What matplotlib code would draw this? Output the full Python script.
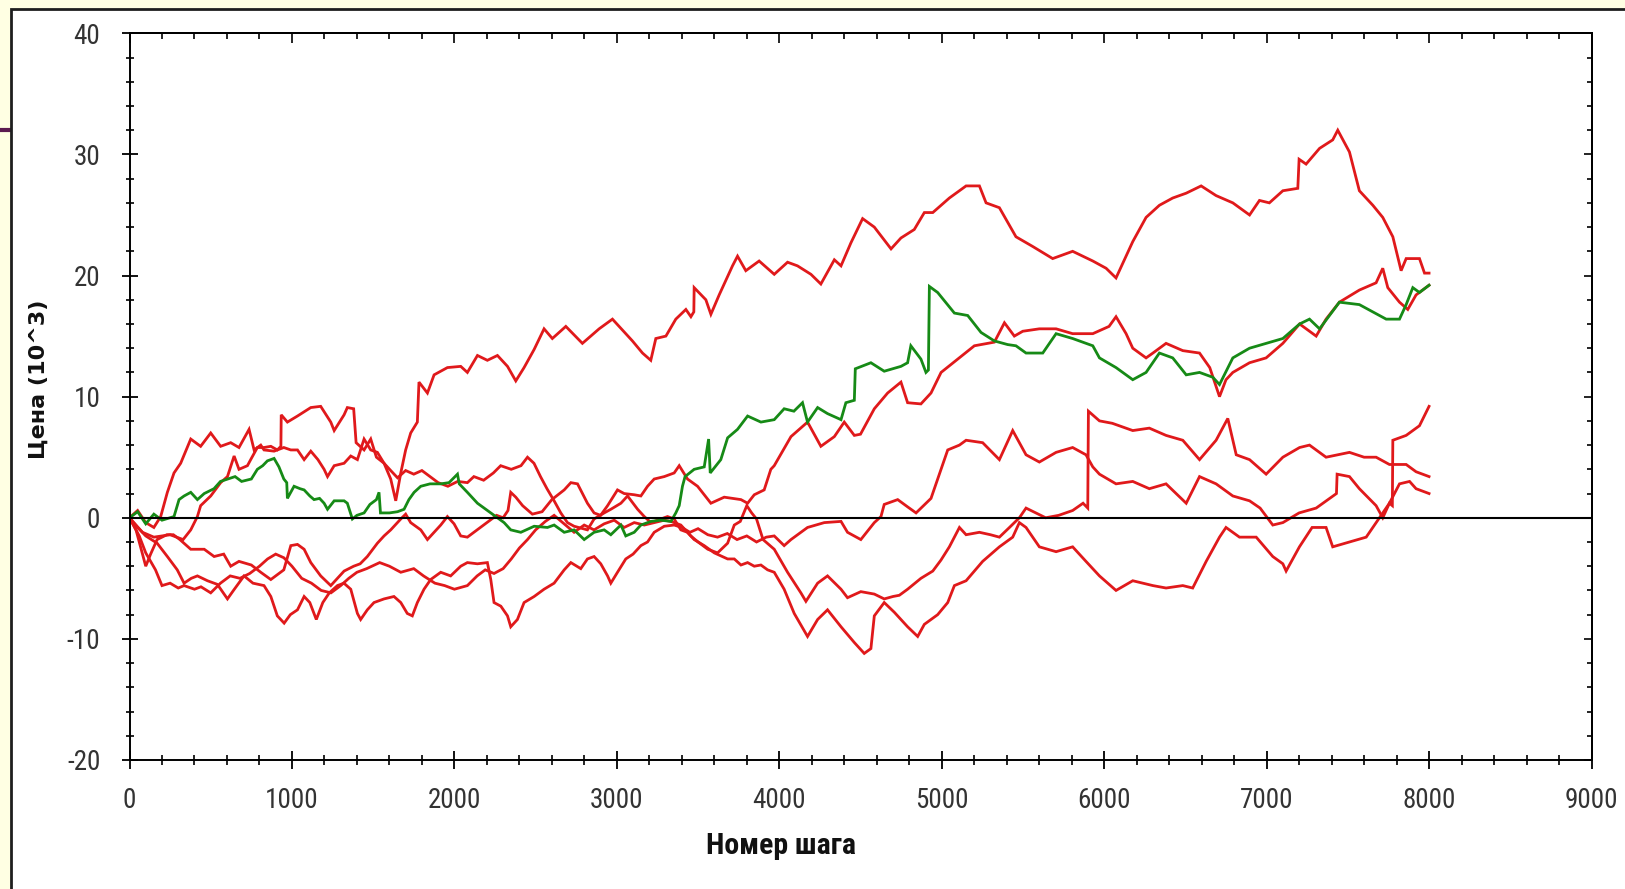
import matplotlib
matplotlib.use("Agg")
import matplotlib.pyplot as plt
from matplotlib.patches import Rectangle
from matplotlib.lines import Line2D
from matplotlib.ticker import MultipleLocator, NullFormatter

plt.rcParams['axes.unicode_minus'] = False

# ----------------------------
# Look
# ----------------------------
FIG_W, FIG_H, DPI = 16.25, 8.89, 100
SLIDE_BG = '#FFFFE3'
PANEL_EDGE = '#1e1e1e'
ACCENT = '#5b1a4f'
RED = '#e0191b'
GREEN = '#168a16'
LINE_W = 2.0
TICK_FONT = ['Liberation Sans Narrow', 'DejaVu Sans Condensed', 'Noto Sans Condensed',
             'Roboto Condensed', 'Open Sans Condensed', 'Liberation Sans']
TICK_COLOR = '#333333'

X_LABEL = 'Номер шага'
Y_LABEL = 'Цена (10^3)'

# ----------------------------
# Price paths: (step, price in 10^3)
# ----------------------------
path_a = [
    (0, 0.0), (40, -0.6), (80, -1.2), (150, -1.6), (250, -1.4), (330, -1.8), (377, -1.0),
    (418, 0.1), (438, 1.0), (500, 1.8), (561, 2.9), (603, 3.4), (644, 5.1), (674, 4.0),
    (726, 4.3), (746, 4.8), (787, 5.8), (828, 5.8), (870, 5.9), (910, 5.6), (932, 5.9),
    (934, 8.5), (972, 7.9), (1034, 8.4), (1116, 9.1), (1177, 9.2), (1239, 7.9), (1260, 7.2),
    (1321, 8.5), (1341, 9.1), (1380, 9.0), (1395, 6.2), (1444, 5.6), (1485, 6.5), (1520, 5.0),
    (1567, 4.5), (1608, 3.2), (1639, 1.4), (1670, 3.7), (1700, 5.6), (1731, 7.0), (1772, 7.9),
    (1782, 11.2), (1834, 10.3), (1875, 11.8), (1957, 12.4), (2039, 12.5), (2080, 12.0),
    (2142, 13.4), (2203, 13.0), (2265, 13.4), (2327, 12.5), (2378, 11.3), (2429, 12.4),
    (2491, 13.9), (2552, 15.6), (2603, 14.8), (2686, 15.8), (2788, 14.4), (2891, 15.6),
    (2973, 16.4), (3055, 15.2), (3096, 14.6), (3158, 13.6), (3209, 13.0), (3240, 14.8),
    (3302, 15.0), (3363, 16.4), (3425, 17.2), (3456, 16.6), (3474, 17.0), (3476, 19.0),
    (3548, 18.0), (3579, 16.8), (3630, 18.4), (3712, 20.8), (3743, 21.6), (3794, 20.4),
    (3876, 21.2), (3969, 20.1), (4051, 21.1), (4112, 20.8), (4195, 20.1), (4256, 19.3),
    (4339, 21.3), (4380, 20.8), (4441, 22.7), (4513, 24.7), (4585, 24.0), (4688, 22.2),
    (4749, 23.1), (4831, 23.8), (4893, 25.2), (4945, 25.2), (5047, 26.4), (5150, 27.4),
    (5232, 27.4), (5273, 26.0), (5355, 25.6), (5457, 23.2), (5560, 22.4), (5683, 21.4),
    (5806, 22.0), (5930, 21.2), (6012, 20.6), (6073, 19.8), (6176, 22.8), (6258, 24.8),
    (6340, 25.8), (6422, 26.4), (6505, 26.8), (6597, 27.4), (6689, 26.6), (6792, 26.0),
    (6895, 25.0), (6956, 26.2), (7017, 26.0), (7100, 27.0), (7192, 27.2), (7200, 29.6),
    (7243, 29.2), (7326, 30.5), (7407, 31.2), (7438, 32.0), (7510, 30.2), (7571, 27.0),
    (7654, 25.8), (7715, 24.8), (7777, 23.2), (7828, 20.4), (7859, 21.4), (7941, 21.4),
    (7972, 20.2), (8000, 20.2),
]

path_b = [
    (0, 0.0), (50, 0.6), (100, -0.4), (150, -0.8), (192, 0.1), (233, 2.1), (274, 3.7),
    (315, 4.5), (377, 6.5), (438, 5.9), (500, 7.0), (561, 5.9), (623, 6.2), (674, 5.8),
    (736, 7.3), (767, 5.6), (808, 6.0), (828, 5.6), (890, 5.5), (950, 5.8), (993, 5.6),
    (1034, 5.6), (1075, 4.8), (1116, 5.5), (1160, 4.8), (1198, 4.0), (1219, 3.4), (1260, 4.3),
    (1321, 4.5), (1362, 5.1), (1403, 4.8), (1444, 6.5), (1485, 5.6), (1526, 5.4), (1567, 4.5),
    (1608, 3.9), (1650, 3.3), (1700, 3.9), (1750, 3.6), (1800, 3.9), (1850, 3.4), (1900, 2.9),
    (1960, 2.6), (2020, 3.0), (2080, 2.9), (2120, 3.4), (2180, 3.1), (2240, 3.7), (2285, 4.3),
    (2350, 4.0), (2410, 4.3), (2450, 5.0), (2490, 4.5), (2530, 3.4), (2570, 2.4), (2614, 1.4),
    (2655, 0.4), (2696, -0.4), (2737, -0.7), (2819, -1.0), (2860, -0.1), (2922, 0.4),
    (2963, 0.7), (3025, 1.2), (3066, 1.8), (3128, 0.7), (3169, 0.1), (3210, -0.4),
    (3271, -0.1), (3312, 0.1), (3353, -0.1), (3394, -1.0), (3435, -1.2), (3476, -1.8),
    (3538, -2.3), (3600, -2.9), (3682, -3.4), (3723, -3.4), (3764, -3.9), (3805, -3.7),
    (3846, -4.0), (3887, -3.9), (3928, -4.3), (3969, -4.5), (4030, -5.9), (4092, -7.9),
    (4174, -9.8), (4236, -8.4), (4297, -7.6), (4380, -9.0), (4462, -10.3), (4523, -11.2),
    (4564, -10.8), (4585, -8.1), (4646, -7.0), (4708, -7.8), (4790, -9.0), (4852, -9.8),
    (4893, -8.8), (4975, -8.0), (5037, -7.0), (5078, -5.6), (5150, -5.2), (5252, -3.6),
    (5355, -2.4), (5437, -1.6), (5478, -0.4), (5519, -0.8), (5601, -2.4), (5704, -2.8),
    (5806, -2.4), (5888, -3.6), (5971, -4.8), (6073, -6.0), (6176, -5.2), (6300, -5.6),
    (6381, -5.8), (6484, -5.6), (6545, -5.8), (6628, -3.6), (6710, -1.6), (6750, -0.8),
    (6833, -1.6), (6936, -1.6), (7038, -3.2), (7100, -3.8), (7120, -4.4), (7202, -2.4),
    (7280, -0.8), (7366, -0.8), (7407, -2.4), (7510, -2.0), (7613, -1.6), (7674, -0.4),
    (7715, 0.4), (7756, 1.2), (7818, 2.8), (7880, 3.0), (7920, 2.4), (8000, 2.0),
]

path_c = [
    (0, 0.0), (40, -1.0), (80, -3.0), (100, -4.0), (130, -3.0), (170, -1.8), (230, -1.4),
    (270, -1.4), (310, -1.8), (377, -2.6), (460, -2.6), (521, -3.2), (580, -3.0), (623, -4.0),
    (674, -3.6), (750, -3.9), (808, -4.5), (870, -5.1), (910, -4.7), (950, -4.3), (993, -2.3),
    (1034, -2.2), (1075, -2.6), (1116, -3.7), (1177, -4.8), (1239, -5.6), (1280, -5.0),
    (1321, -4.4), (1380, -4.0), (1420, -3.8), (1464, -3.2), (1526, -2.1), (1567, -1.5),
    (1608, -1.0), (1670, -0.1), (1700, 0.3), (1731, -0.4), (1793, -1.0), (1834, -1.8),
    (1875, -1.2), (1916, -0.6), (1957, 0.1), (1998, -0.5), (2039, -1.5), (2080, -1.6),
    (2140, -1.0), (2200, -0.4), (2260, 0.2), (2300, 0.0), (2330, 0.6), (2347, 2.1),
    (2378, 1.7), (2420, 1.0), (2480, 0.3), (2540, 0.5), (2600, 1.5), (2676, 2.3), (2717, 2.9),
    (2758, 2.8), (2819, 1.2), (2860, 0.4), (2900, 0.2), (2943, 1.0), (3004, 2.3), (3045, 2.0),
    (3107, 1.9), (3148, 1.8), (3189, 2.6), (3230, 3.2), (3292, 3.4), (3353, 3.7), (3384, 4.3),
    (3435, 3.2), (3497, 2.6), (3579, 1.2), (3661, 1.7), (3764, 1.5), (3805, 1.2), (3846, 1.9),
    (3907, 2.3), (3948, 4.0), (3969, 4.3), (4072, 6.7), (4174, 7.9), (4256, 5.9), (4339, 6.7),
    (4400, 7.9), (4462, 6.8), (4500, 6.9), (4585, 9.0), (4667, 10.3), (4749, 11.2),
    (4790, 9.5), (4872, 9.4), (4934, 10.3), (4996, 12.0), (5099, 13.1), (5201, 14.2),
    (5324, 14.5), (5386, 16.1), (5447, 15.0), (5499, 15.4), (5601, 15.6), (5704, 15.6),
    (5806, 15.2), (5930, 15.2), (6030, 15.8), (6073, 16.6), (6135, 15.2), (6176, 14.0),
    (6258, 13.2), (6300, 13.6), (6381, 14.4), (6484, 13.8), (6587, 13.6), (6650, 12.4),
    (6710, 10.0), (6750, 11.4), (6792, 12.0), (6895, 12.8), (6997, 13.2), (7100, 14.4),
    (7203, 16.0), (7305, 15.0), (7366, 16.4), (7448, 17.8), (7571, 18.8), (7674, 19.4),
    (7715, 20.6), (7746, 19.0), (7818, 17.8), (7869, 17.2), (7920, 18.4), (8000, 19.2),
]

path_d = [
    (0, 0.0), (60, -1.5), (100, -2.9), (160, -4.3), (200, -5.6), (250, -5.4), (300, -5.8),
    (336, -5.6), (400, -5.9), (440, -5.7), (500, -6.2), (560, -5.4), (620, -4.8), (680, -5.0),
    (740, -4.6), (800, -4.0), (850, -3.4), (900, -3.0), (950, -3.3), (1000, -4.0),
    (1060, -5.0), (1120, -5.4), (1180, -6.0), (1240, -6.2), (1300, -5.6), (1350, -5.0),
    (1400, -4.5), (1460, -4.2), (1540, -3.7), (1600, -4.0), (1670, -4.5), (1750, -4.2),
    (1810, -4.8), (1880, -5.4), (1940, -5.6), (2000, -5.9), (2080, -5.6), (2140, -4.8),
    (2190, -4.3), (2244, -4.6), (2300, -4.2), (2350, -3.4), (2400, -2.5), (2450, -1.8),
    (2500, -1.0), (2560, -0.3), (2614, 0.2), (2676, -0.5), (2737, -1.2), (2799, -0.6),
    (2860, -1.0), (2922, -0.5), (2984, -0.2), (3045, -0.8), (3107, -0.4), (3169, -0.6),
    (3230, -0.4), (3292, -0.2), (3333, -0.3), (3394, -0.6), (3455, -1.5), (3500, -2.0),
    (3560, -2.6), (3620, -2.9), (3682, -2.1), (3723, -0.6), (3760, -0.3), (3800, 1.0),
    (3830, 0.4), (3860, -0.1), (3900, -1.8), (3935, -2.2), (3969, -2.6), (4051, -4.5),
    (4133, -6.2), (4164, -6.9), (4236, -5.4), (4297, -4.8), (4380, -5.9), (4420, -6.6),
    (4502, -6.1), (4585, -6.3), (4646, -6.7), (4700, -6.5), (4739, -6.4), (4790, -5.9),
    (4872, -5.0), (4945, -4.4), (4995, -3.5), (5047, -2.4), (5109, -0.8), (5150, -1.4),
    (5232, -1.2), (5300, -1.4), (5355, -1.6), (5417, -0.8), (5478, 0.0), (5519, 0.8),
    (5580, 0.4), (5640, 0.0), (5720, 0.2), (5806, 0.6), (5870, 1.2), (5899, 0.8),
    (5903, 8.8), (5971, 8.0), (6050, 7.8), (6176, 7.2), (6278, 7.4), (6381, 6.8),
    (6484, 6.4), (6587, 4.8), (6689, 6.4), (6761, 8.2), (6813, 5.2), (6895, 4.8),
    (6997, 3.6), (7100, 5.0), (7203, 5.8), (7264, 6.0), (7366, 5.0), (7510, 5.4),
    (7600, 5.0), (7674, 5.0), (7756, 4.4), (7859, 4.4), (7920, 3.8), (8000, 3.4),
]

path_e = [
    (0, 0.0), (50, -0.8), (100, -1.5), (170, -2.1), (233, -3.2), (294, -4.3), (336, -5.4),
    (380, -5.0), (418, -4.8), (480, -5.2), (541, -5.5), (603, -6.7), (640, -6.0), (705, -4.8),
    (760, -5.4), (828, -5.6), (870, -6.5), (910, -8.1), (952, -8.7), (990, -8.0), (1034, -7.6),
    (1075, -6.5), (1110, -7.0), (1150, -8.4), (1190, -7.0), (1230, -6.2), (1280, -5.6),
    (1320, -5.4), (1362, -5.9), (1403, -7.9), (1423, -8.4), (1464, -7.6), (1505, -7.0),
    (1567, -6.7), (1628, -6.5), (1670, -7.0), (1710, -7.9), (1741, -8.1), (1772, -7.0),
    (1813, -5.9), (1854, -5.1), (1916, -4.5), (1977, -4.8), (2039, -4.0), (2080, -3.7),
    (2142, -3.8), (2203, -3.7), (2224, -5.1), (2244, -7.0), (2286, -7.3), (2327, -8.1),
    (2347, -9.0), (2388, -8.4), (2429, -7.0), (2491, -6.5), (2552, -5.9), (2614, -5.4),
    (2676, -4.3), (2717, -3.7), (2778, -4.2), (2819, -3.4), (2860, -3.2), (2901, -3.8),
    (2943, -4.8), (2963, -5.4), (3004, -4.5), (3055, -3.4), (3100, -3.0), (3148, -2.3),
    (3189, -2.0), (3230, -1.2), (3292, -0.7), (3353, -0.6), (3400, -0.8), (3450, -1.2),
    (3500, -0.9), (3560, -1.4), (3620, -1.6), (3680, -1.3), (3740, -1.8), (3800, -1.5),
    (3860, -2.0), (3920, -1.6), (3969, -1.5), (4030, -2.3), (4072, -1.8), (4174, -0.8),
    (4277, -0.4), (4380, -0.3), (4420, -1.2), (4502, -1.8), (4585, -0.4), (4626, 0.1),
    (4646, 1.1), (4729, 1.5), (4790, 0.9), (4842, 0.4), (4934, 1.6), (4975, 3.2),
    (5037, 5.6), (5109, 6.0), (5150, 6.4), (5252, 6.2), (5355, 4.8), (5437, 7.2),
    (5519, 5.2), (5601, 4.6), (5704, 5.4), (5806, 5.8), (5888, 5.2), (5930, 4.2),
    (5971, 3.6), (6073, 2.8), (6176, 3.0), (6278, 2.4), (6381, 2.8), (6505, 1.2),
    (6587, 3.4), (6689, 2.8), (6792, 1.8), (6895, 1.4), (6960, 0.8), (7038, -0.6),
    (7100, -0.4), (7200, 0.4), (7305, 0.8), (7430, 2.0), (7434, 3.6), (7510, 3.4),
    (7571, 2.4), (7674, 1.0), (7715, 0.0), (7756, 1.2), (7774, 1.0), (7777, 6.4),
    (7859, 6.8), (7941, 7.6), (8000, 9.2),
]

path_green = [
    (0, 0.0), (50, 0.5), (100, -0.5), (150, 0.3), (200, -0.2), (250, 0.0), (274, 0.1),
    (305, 1.5), (336, 1.8), (377, 2.1), (418, 1.5), (460, 2.0), (520, 2.4), (560, 3.0),
    (604, 3.2), (650, 3.4), (690, 3.0), (750, 3.2), (787, 4.0), (820, 4.3), (849, 4.7),
    (890, 4.9), (920, 4.2), (950, 3.2), (968, 2.9), (972, 1.6), (1013, 2.6), (1050, 2.4),
    (1075, 2.3), (1110, 1.8), (1136, 1.5), (1170, 1.6), (1198, 1.2), (1219, 0.7), (1260, 1.4),
    (1321, 1.4), (1341, 1.2), (1372, -0.1), (1400, 0.2), (1444, 0.4), (1480, 1.1), (1520, 1.5),
    (1536, 2.1), (1545, 0.4), (1600, 0.4), (1650, 0.5), (1690, 0.7), (1720, 1.5), (1752, 2.1),
    (1793, 2.6), (1850, 2.8), (1916, 2.8), (1967, 2.9), (2019, 3.6), (2030, 2.8), (2080, 2.1),
    (2142, 1.2), (2183, 0.8), (2245, 0.2), (2306, -0.4), (2347, -1.0), (2409, -1.2),
    (2491, -0.7), (2573, -0.8), (2614, -0.6), (2676, -1.2), (2737, -1.0), (2799, -1.8),
    (2860, -1.2), (2922, -1.0), (2963, -1.4), (3025, -0.6), (3055, -1.5), (3107, -1.2),
    (3148, -0.6), (3210, -0.3), (3271, -0.2), (3333, -0.3), (3363, 0.4), (3384, 1.0),
    (3404, 2.6), (3420, 3.4), (3476, 4.0), (3538, 4.2), (3565, 6.5), (3575, 3.7), (3640, 4.8),
    (3682, 6.6), (3743, 7.3), (3805, 8.4), (3887, 7.9), (3969, 8.1), (4030, 9.0), (4090, 8.8),
    (4143, 9.5), (4174, 7.9), (4236, 9.1), (4297, 8.6), (4380, 8.1), (4410, 9.5), (4462, 9.7),
    (4468, 12.3), (4564, 12.8), (4646, 12.1), (4749, 12.5), (4790, 12.8), (4810, 14.2),
    (4872, 13.1), (4903, 12.0), (4918, 12.2), (4924, 19.1), (4975, 18.6), (5078, 16.9),
    (5160, 16.7), (5242, 15.3), (5324, 14.6), (5406, 14.3), (5457, 14.2), (5519, 13.6),
    (5622, 13.6), (5704, 15.2), (5806, 14.8), (5930, 14.2), (5971, 13.2), (6073, 12.4),
    (6176, 11.4), (6258, 12.0), (6340, 13.6), (6422, 13.2), (6505, 11.8), (6587, 12.0),
    (6669, 11.6), (6710, 11.0), (6792, 13.2), (6895, 14.0), (6997, 14.4), (7100, 14.8),
    (7203, 16.0), (7264, 16.4), (7326, 15.6), (7448, 17.8), (7571, 17.6), (7654, 17.0),
    (7736, 16.4), (7818, 16.4), (7859, 17.6), (7900, 19.0), (7941, 18.6), (8000, 19.2),
]

RED_PATHS = [path_a, path_b, path_c, path_d, path_e]

X_MAJOR = list(range(0, 9001, 1000))
Y_MAJOR = list(range(-20, 41, 10))

# ----------------------------
# Figure and slide panel
# ----------------------------
fig = plt.figure(figsize=(FIG_W, FIG_H), dpi=DPI)
fig.patch.set_facecolor(SLIDE_BG)

W_PX, H_PX = FIG_W * DPI, FIG_H * DPI
panel = Rectangle((10.5 / W_PX, -0.02), 1.05, 1.02 - 9 / H_PX,
                  transform=fig.transFigure, facecolor='white',
                  edgecolor=PANEL_EDGE, linewidth=2.0, zorder=-10)
fig.patches.append(panel)
fig.lines.append(Line2D([0, 10 / W_PX], [1 - 130 / H_PX] * 2, transform=fig.transFigure,
                        color=ACCENT, linewidth=3.0, zorder=-10))

ax = fig.add_axes([129.5 / W_PX, 129 / H_PX, 1462 / W_PX, 726.7 / H_PX])
ax.set_facecolor('white')
ax.set_xlim(0, 9000)
ax.set_ylim(-20, 40)

for pts in RED_PATHS:
    xs = [p[0] for p in pts]
    ys = [p[1] for p in pts]
    ax.plot(xs, ys, color=RED, linewidth=LINE_W, solid_joinstyle='miter', zorder=2)

gx = [p[0] for p in path_green]
gy = [p[1] for p in path_green]
ax.plot(gx, gy, color=GREEN, linewidth=LINE_W, solid_joinstyle='miter', zorder=2.5)

ax.axhline(0, color='black', linewidth=1.5, zorder=3)

# ----------------------------
# Axes, ticks, labels
# ----------------------------
for sp in ax.spines.values():
    sp.set_linewidth(1.4)
    sp.set_color('black')

ax.set_xticks(X_MAJOR)
ax.set_yticks(Y_MAJOR)
ax.xaxis.set_minor_locator(MultipleLocator(200))
ax.yaxis.set_minor_locator(MultipleLocator(2))
ax.tick_params(axis='x', which='major', direction='inout', length=13, width=1.3, pad=13)
ax.tick_params(axis='x', which='minor', direction='inout', length=7, width=1.2)
ax.tick_params(axis='y', which='major', direction='inout', length=12, width=1.3, pad=15)
ax.tick_params(axis='y', which='minor', direction='inout', length=6, width=1.2)

for lab in ax.get_xticklabels() + ax.get_yticklabels():
    lab.set_fontfamily(TICK_FONT)
    lab.set_fontstretch('condensed')
    lab.set_fontsize(19.5)
    lab.set_color(TICK_COLOR)

top = ax.secondary_xaxis('top')
top.set_xticks(X_MAJOR)
top.xaxis.set_minor_locator(MultipleLocator(200))
top.xaxis.set_major_formatter(NullFormatter())
top.tick_params(which='major', direction='in', length=7, width=1.2)
top.tick_params(which='minor', direction='in', length=4.3, width=1.2)
top.spines['top'].set_linewidth(1.4)

right = ax.secondary_yaxis('right')
right.set_yticks(Y_MAJOR)
right.yaxis.set_minor_locator(MultipleLocator(2))
right.yaxis.set_major_formatter(NullFormatter())
right.tick_params(which='major', direction='in', length=6, width=1.2)
right.tick_params(which='minor', direction='in', length=3.6, width=1.2)
right.spines['right'].set_linewidth(1.4)

ax.set_xlabel(X_LABEL, fontfamily=TICK_FONT, fontstretch='condensed', fontweight='bold',
              fontsize=21.5, color='#111111', va='center')
ax.xaxis.set_label_coords(0.4456, -0.118)
ax.set_ylabel(Y_LABEL, fontfamily='DejaVu Sans', fontweight='bold', fontsize=16,
              color='#111111', va='center')
ax.yaxis.set_label_coords(-0.062, 0.524)

fig.savefig('out.png', dpi=DPI, facecolor=fig.get_facecolor())
